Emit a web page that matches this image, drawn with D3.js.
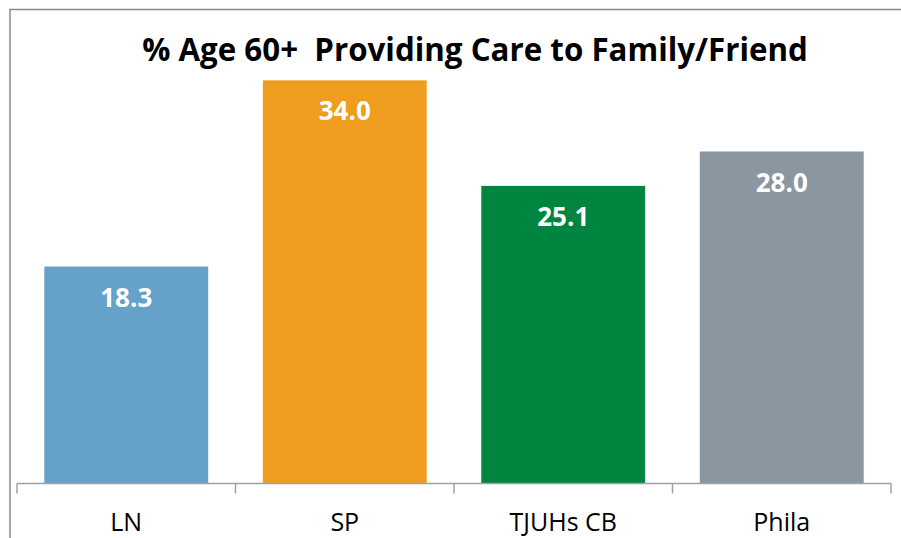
<!DOCTYPE html>
<html><head><meta charset="utf-8">
<script src="https://cdn.jsdelivr.net/npm/d3@7"></script>
<style>html,body{margin:0;padding:0;background:#fff;}svg{display:block;}</style>
</head><body>
<script>
const categories = ["LN", "SP", "TJUHs CB", "Phila"];
const values = [18.3, 34.0, 25.1, 28.0];
const barColors = ["#65A1C9", "#EE9D1E", "#008541", "#8A96A0"];
const titleText = "% Age 60+\u00A0\u00A0Providing Care to Family/Friend";

const W = 901, H = 538;
const svg = d3.select("body").append("svg").attr("width", W).attr("height", H);

svg.append("rect").attr("x", 10).attr("y", 9.5).attr("width", 910).attr("height", 560)
  .attr("fill", "none").attr("stroke", "#8a8a8a").attr("stroke-width", 1.5);

const x = d3.scaleBand().domain(categories).range([17, 891]).paddingInner(0.25).paddingOuter(0.125);
const y = d3.scaleLinear().domain([0, 35]).range([483.5, 68.5]);

svg.append("text").attr("x", 475).attr("y", 61).attr("text-anchor", "middle")
  .attr("font-family", "Open Sans").attr("font-weight", "bold").attr("font-size", 31.3)
  .attr("fill", "#000").text(titleText);

svg.selectAll("rect.bar").data(values).enter().append("rect").attr("class", "bar")
  .attr("x", (d, i) => x(categories[i])).attr("width", x.bandwidth())
  .attr("y", d => y(d)).attr("height", d => y(0) - y(d))
  .attr("fill", (d, i) => barColors[i]);

svg.selectAll("text.lbl").data(values).enter().append("text").attr("class", "lbl")
  .attr("x", (d, i) => x(categories[i]) + x.bandwidth() / 2)
  .attr("y", d => y(d) + 40).attr("text-anchor", "middle")
  .attr("font-family", "Open Sans").attr("font-weight", "bold").attr("font-size", 26)
  .attr("fill", "#fff").text(d => d.toFixed(1));

const ax = svg.append("g").attr("transform", "translate(0,483.5)");
ax.append("line").attr("x1", 17).attr("x2", 891).attr("y1", 0).attr("y2", 0)
  .attr("stroke", "#a0a0a0").attr("stroke-width", 1.5);
const edges = [x.range()[0]].concat(categories.map(c => x(c) + x.bandwidth() + x.step() * x.paddingInner() / 2));
ax.selectAll("line.tk").data(edges).enter().append("line").attr("class", "tk")
  .attr("x1", d => d).attr("x2", d => d).attr("y1", 0).attr("y2", 10)
  .attr("stroke", "#a0a0a0").attr("stroke-width", 1.5);
ax.selectAll("text.cat").data(categories).enter().append("text").attr("class", "cat")
  .attr("x", d => x(d) + x.bandwidth() / 2).attr("y", 47.5).attr("text-anchor", "middle")
  .attr("font-family", "Open Sans").attr("font-size", 25).attr("fill", "#000").text(d => d);
</script>
</body></html>
